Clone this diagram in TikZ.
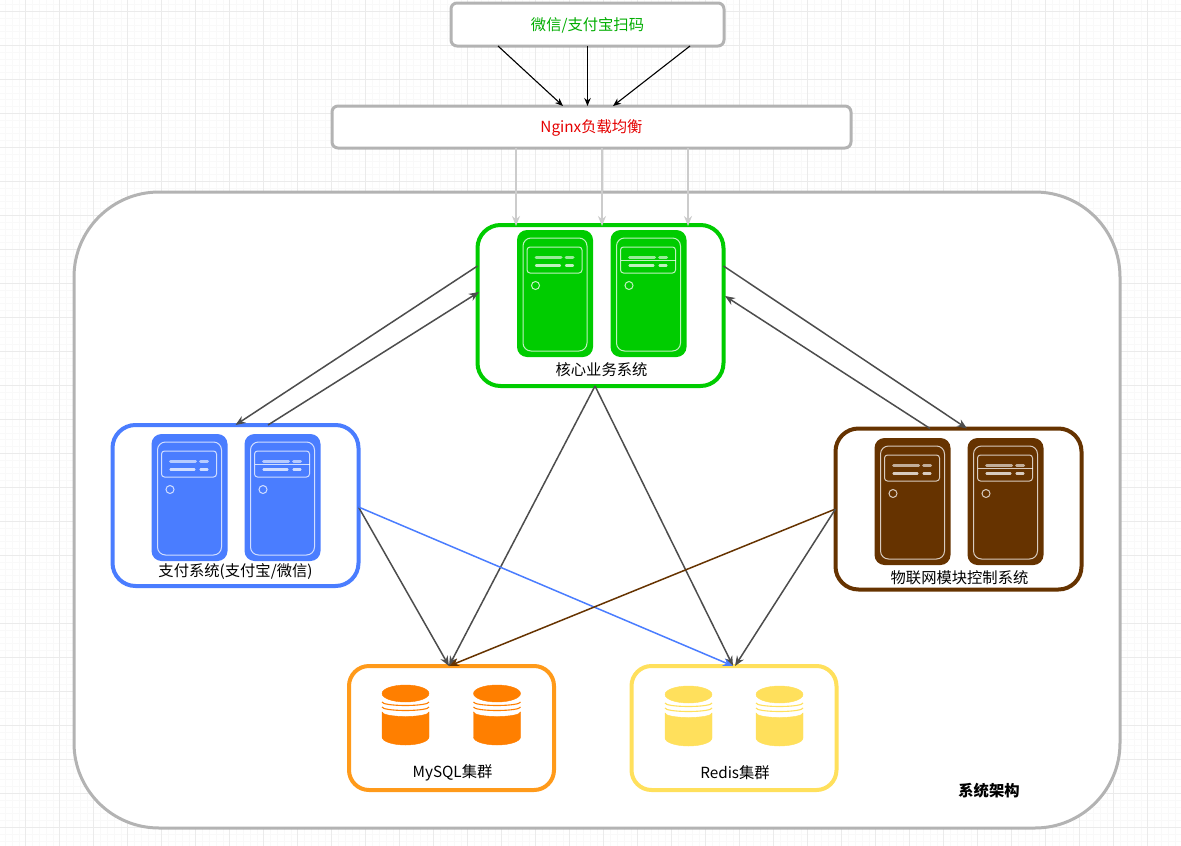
\documentclass[tikz,border=0pt]{standalone}
\usepackage{fontspec}
\setmainfont{Noto Sans CJK SC}
\usetikzlibrary{arrows.meta}

\definecolor{frameGray}{HTML}{B3B3B3}
\definecolor{inGray}{HTML}{CCCCCC}
\definecolor{linkGray}{HTML}{4D4D4D}
\definecolor{coreGreen}{HTML}{00CC00}
\definecolor{payBlue}{HTML}{4A7DFF}
\definecolor{iotBrown}{HTML}{663300}
\definecolor{sqlOrange}{HTML}{FF9A1A}
\definecolor{sqlFill}{HTML}{FF7F00}
\definecolor{redisYellow}{HTML}{FFE05C}

\tikzset{
    frame/.style={draw, line width=4, rounded corners=#1, inner sep=0, outer sep=0, fill=white},
    caption/.style={font=\fontsize{15.3}{17}\selectfont, inner sep=0},
    link/.style={-{Stealth[length=10,width=8]}, line width=1.5, color=linkGray},
    toplink/.style={-{Stealth[length=8,width=6.5]}, line width=1.1, color=black},
    inlink/.style={-{Stealth[length=10,width=8]}, line width=1.8, color=inGray},
    server/.pic={
        \fill[pic actions, rounded corners=10] (0,0) rectangle (76,127);
        \begin{scope}[draw=white, draw opacity=0.75, line width=1]
            \draw[rounded corners=8] (6,8) rectangle (70,121);
            \draw[rounded corners=3] (10,17) rectangle (65,43);
            \draw (18.5,55.5) circle (4);
            \draw[line width=3, line cap=round, draw opacity=0.6] (19,27) -- (44,27);
            \draw[line width=3, line cap=round, draw opacity=0.6] (49,27) -- (56,27);
            \draw[line width=2.2, line cap=round] (19,35.5) -- (43,35.5);
            \draw[line width=2.2, line cap=round] (49,35.5) -- (56,35.5);
        \end{scope}
    },
    database/.pic={
        \fill[pic actions] (-23.5,27) -- (-23.5,52) arc[start angle=180, end angle=0, x radius=23.5, y radius=8]
            -- (23.5,27) arc[start angle=0, end angle=180, x radius=23.5, y radius=4.5] -- cycle;
        \fill[pic actions] (0,8.5) ellipse[x radius=23.5, y radius=8.5];
        \draw[pic actions, fill=none, line width=1.1] (-23.5,17) arc[start angle=180, end angle=0, x radius=23.5, y radius=3.5];
        \draw[pic actions, fill=none, line width=1.1] (-23.5,22) arc[start angle=180, end angle=0, x radius=23.5, y radius=3.5];
    },
}

\begin{document}
\begin{tikzpicture}[x=1pt, y=-1pt]
    \useasboundingbox (0,0) rectangle (1181,846);
    % grid
    \foreach \k in {0,...,174} {
        \draw[color=black!2.5, line width=0.6] ({-8.4+6.8*\k},0) -- ({-8.4+6.8*\k},846);
    }
    \foreach \k in {0,...,125} {
        \draw[color=black!2.5, line width=0.6] (0,{4.5+6.8*\k}) -- (1181,{4.5+6.8*\k});
    }
    \foreach \k in {0,...,34} {
        \draw[color=black!8, line width=0.9] ({25.6+34*\k},0) -- ({25.6+34*\k},846);
    }
    \foreach \k in {0,...,24} {
        \draw[color=black!8, line width=0.9] (0,{11.3+34*\k}) -- (1181,{11.3+34*\k});
    }

    % frames
    \node[frame=85, draw=frameGray, line width=3, minimum width=1046, minimum height=636] (Outer) at (597,510) {};
    \node[frame=6, draw=frameGray, line width=3, minimum width=273, minimum height=43] (Scan) at (587.5,24.5) {};
    \node[frame=6, draw=frameGray, line width=3, minimum width=519, minimum height=42] (Nginx) at (591.5,127) {};
    \node[frame=23, draw=coreGreen, minimum width=246, minimum height=161] (Core) at (600.5,305.5) {};
    \node[frame=23, draw=payBlue, minimum width=246, minimum height=161] (Pay) at (235.5,505.5) {};
    \node[frame=23, draw=iotBrown, minimum width=246, minimum height=161] (IoT) at (958.5,509) {};
    \node[frame=20, draw=sqlOrange, minimum width=205, minimum height=124] (MySQL) at (451.5,728) {};
    \node[frame=20, draw=redisYellow, minimum width=205, minimum height=124] (Redis) at (734,728) {};

    % servers
    \foreach \px/\py/\col in {517/230/coreGreen, 610.5/230/coreGreen, 151.5/434/payBlue, 244.5/434/payBlue, 874.5/438/iotBrown, 967.5/438/iotBrown} {
        \pic[fill=\col] at (\px,\py) {server};
    }
    \foreach \px/\py in {610.5/230, 244.5/434, 967.5/438} {
        \draw[white, draw opacity=0.75, line width=1] (\px+10,\py+30.7) -- (\px+65,\py+30.7);
    }

    % databases
    \pic[fill=sqlFill, draw=sqlFill] at (405.5,685) {database};
    \pic[fill=sqlFill, draw=sqlFill] at (497,685) {database};
    \pic[fill=redisYellow, draw=redisYellow] at (688.5,686) {database};
    \pic[fill=redisYellow, draw=redisYellow] at (779.5,686) {database};

    % labels
    \node[caption, color=coreGreen!85!black] (ScanText) at (587.5,25.5) {微信/支付宝扫码};
    \node[caption, color=red!90!black] (NginxText) at (591.5,127.5) {Nginx负载均衡};
    \node[caption] (CoreText) at (601.5,369.5) {核心业务系统};
    \node[caption] (PayText) at (235.5,572) {支付系统(支付宝/微信)};
    \node[caption] (IoTText) at (959.5,577.5) {物联网模块控制系统};
    \node[caption] (MySQLText) at (452.5,773) {MySQL集群};
    \node[caption] (RedisText) at (735,773) {Redis集群};
    \node[caption, font=\fontsize{15.3}{17}\selectfont\bfseries] (OuterText) at (989,790.5) {系统架构};

    % top links
    \draw[toplink] ([xshift=-89.5]Scan.south) -- ([xshift=-28.5]Nginx.north);
    \draw[toplink] (Scan.south) -- ([xshift=-4]Nginx.north);
    \draw[toplink] ([xshift=102.5]Scan.south) -- ([xshift=21.5]Nginx.north);
    \draw[inlink] ([xshift=-75.5]Nginx.south) -- ([xshift=-84.5,yshift=-1]Core.north);
    \draw[inlink] ([xshift=10.5]Nginx.south) -- ([xshift=1.5,yshift=-1]Core.north);
    \draw[inlink] ([xshift=96.5]Nginx.south) -- ([xshift=87.5,yshift=-1]Core.north);

    % system links
    \draw[link] ([yshift=39.5]Core.west) -- (Pay.north);
    \draw[link] ([xshift=32.5]Pay.north) -- ([xshift=1.5,yshift=13.5]Core.west);
    \draw[link] ([yshift=39.5]Core.east) -- ([xshift=8.5]IoT.north);
    \draw[link] ([xshift=-28.5]IoT.north) -- ([xshift=1.5,yshift=9.5]Core.east);
    \draw[link] ([xshift=-5.5]Core.south) -- ([xshift=-2.5]MySQL.north);
    \draw[link] ([xshift=-5.5]Core.south) -- ([xshift=-1]Redis.north);
    \draw[link] ([yshift=-1.5]Pay.east) -- ([xshift=-2.5]MySQL.north);
    \draw[link, color=payBlue] ([yshift=-1.5]Pay.east) -- ([xshift=-1]Redis.north);
    \draw[link, color=iotBrown] (IoT.west) -- ([xshift=-2.5]MySQL.north);
    \draw[link] (IoT.west) -- ([xshift=1]Redis.north);
\end{tikzpicture}
\end{document}
